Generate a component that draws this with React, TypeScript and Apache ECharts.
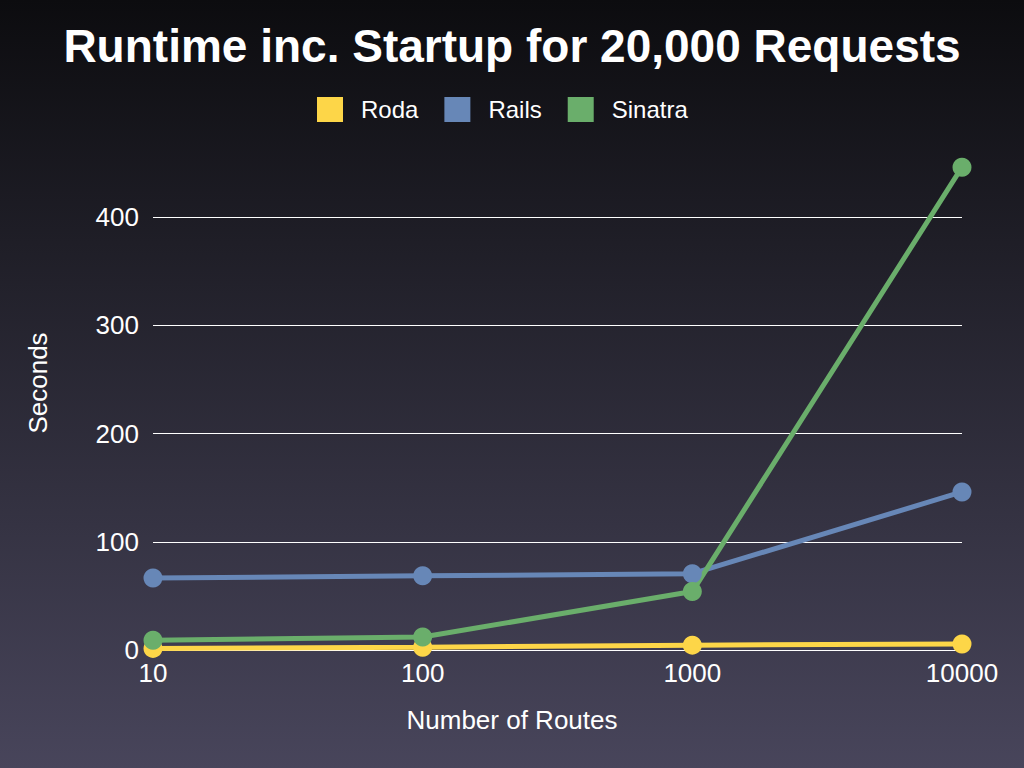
import React, { useEffect, useRef } from "react";
import * as echarts from "echarts";

const categories = ["10", "100", "1000", "10000"];
const roda = [1.5, 2.5, 4.5, 5.5];
const rails = [66.5, 68.5, 70.5, 146];
const sinatra = [9, 12, 54, 446];
const yTicks = [0, 100, 200, 300, 400];

const FONT = "'Liberation Sans', Arial, Helvetica, sans-serif";

export default function App() {
  const ref = useRef<HTMLDivElement>(null);
  useEffect(() => {
    if (!ref.current) return;
    const chart = echarts.init(ref.current, null, { renderer: "svg" });
    const pxPerUnit = (650 - 217) / 400;
    const topB = 650 - 450 * pxPerUnit;
    const mk = (name: string, data: number[], color: string) => ({
      name,
      type: "line",
      xAxisIndex: 1,
      yAxisIndex: 1,
      data,
      symbol: "circle",
      symbolSize: 19,
      lineStyle: { width: 5, color },
      itemStyle: { color },
      color,
      clip: false,
    });
    chart.setOption({
      animation: false,
      backgroundColor: {
        type: "linear",
        x: 0,
        y: 0,
        x2: 0,
        y2: 1,
        colorStops: [
          { offset: 0, color: "#0c0c0f" },
          { offset: 1, color: "#48455b" },
        ],
      },
      title: {
        text: "Runtime inc. Startup for 20,000 Requests",
        left: "center",
        top: 18,
        textStyle: { color: "#ffffff", fontSize: 46, fontWeight: "bold", fontFamily: FONT },
      },
      legend: {
        top: 92,
        left: 312,
        itemWidth: 26,
        itemHeight: 25,
        itemGap: 26,
        icon: "rect",
        data: ["Roda", "Rails", "Sinatra"],
        textStyle: { color: "#ffffff", fontSize: 24, fontFamily: FONT, padding: [0, 0, 0, 13] },
      },
      graphic: [
        {
          type: "text",
          x: 38,
          y: 383,
          rotation: Math.PI / 2,
          style: {
            text: "Seconds",
            fill: "#ffffff",
            fontSize: 26,
            fontFamily: FONT,
            align: "center",
            verticalAlign: "middle",
          },
        },
        {
          type: "text",
          x: 512,
          y: 720,
          style: {
            text: "Number of Routes",
            fill: "#ffffff",
            fontSize: 26,
            fontFamily: FONT,
            align: "center",
            verticalAlign: "middle",
          },
        },
      ],
      grid: [
        { left: 153, right: 62, top: 217, bottom: 768 - 650 },
        { left: 153, right: 62, top: topB, bottom: 768 - 650 },
      ],
      xAxis: [
        {
          type: "category",
          gridIndex: 0,
          data: categories,
          boundaryGap: false,
          axisLine: { show: false },
          axisTick: { show: false },
          axisLabel: { color: "#ffffff", fontSize: 26, fontFamily: FONT, margin: 10 },
        },
        {
          type: "category",
          gridIndex: 1,
          data: categories,
          boundaryGap: false,
          show: false,
        },
      ],
      yAxis: [
        {
          type: "value",
          gridIndex: 0,
          min: yTicks[0],
          max: yTicks[yTicks.length - 1],
          interval: 100,
          axisLine: { show: false },
          axisTick: { show: false },
          axisLabel: { color: "#ffffff", fontSize: 26, fontFamily: FONT, margin: 14 },
          splitLine: { show: true, lineStyle: { color: "#ffffff", width: 1 } },
        },
        {
          type: "value",
          gridIndex: 1,
          min: 0,
          max: 450,
          show: false,
          splitLine: { show: false },
        },
      ],
      series: [
        mk("Roda", roda, "#fdd648"),
        mk("Rails", rails, "#6787b7"),
        mk("Sinatra", sinatra, "#6aae6b"),
      ],
    });
    return () => chart.dispose();
  }, []);
  return <div ref={ref} style={{ width: 1024, height: 768, position: "absolute", left: 0, top: 0 }} />;
}
